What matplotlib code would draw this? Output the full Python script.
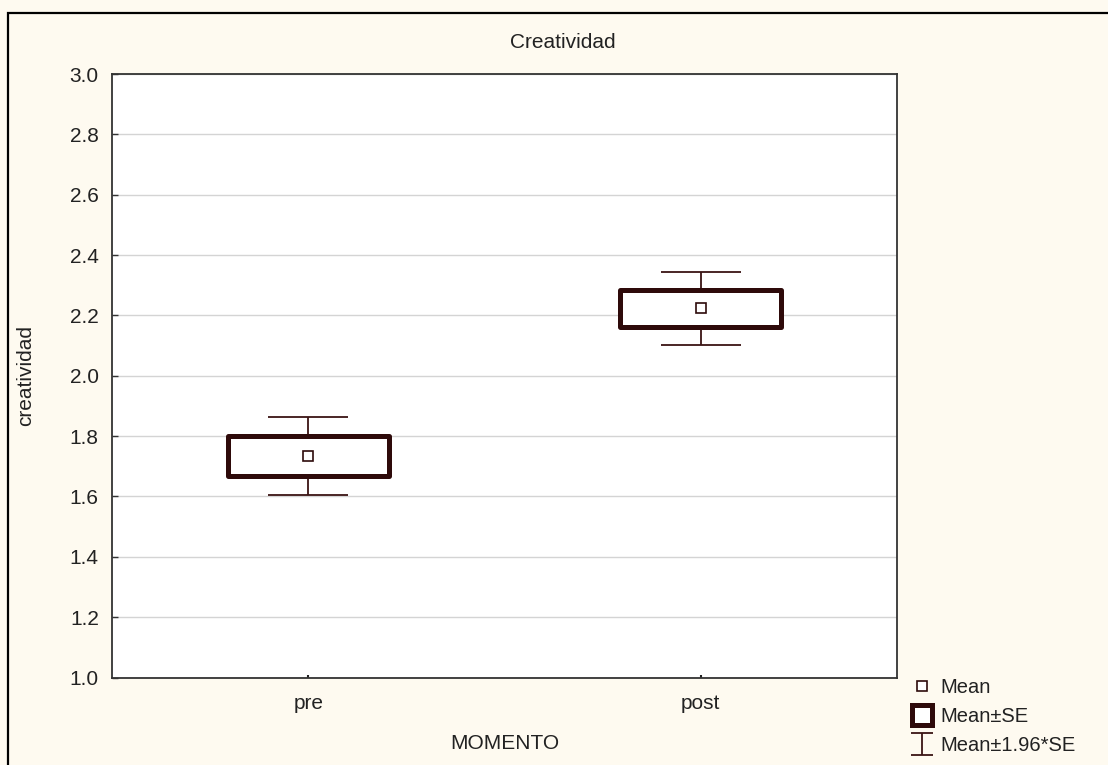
import matplotlib
matplotlib.use("Agg")
import matplotlib.pyplot as plt
from matplotlib.patches import Rectangle
from matplotlib.lines import Line2D
from matplotlib.path import Path

# Group means and standard errors of "creatividad" by MOMENTO
categories = ["pre", "post"]
means = [1.733, 2.223]
std_err = [0.066, 0.061]
ci_factor = 1.96

yticks = [1.0, 1.2, 1.4, 1.6, 1.8, 2.0, 2.2, 2.4, 2.6, 2.8, 3.0]

plt.rcParams["font.family"] = ["Liberation Sans", "DejaVu Sans"]

BG = "#fefaf0"
BOX = "#2e0a0a"
WHISK = "#3a1414"
TXT = "#222222"

W, H = 1108, 765
fig = plt.figure(figsize=(W / 100, H / 100), dpi=100, facecolor=BG)
ax = fig.add_axes([112 / W, 1 - 677.5 / H, 785 / W, 603.5 / H])
ax.set_facecolor("white")

xs = list(range(1, len(categories) + 1))
box_w = 0.41

# whiskers: mean +/- 1.96*SE
ax.errorbar(xs, means, yerr=[ci_factor * s for s in std_err], fmt="none",
            ecolor=WHISK, elinewidth=1.3, capsize=28.5, capthick=1.3, zorder=2)

# boxes: mean +/- SE
for x, m, s in zip(xs, means, std_err):
    ax.add_patch(Rectangle((x - box_w / 2, m - s), box_w, 2 * s,
                           facecolor="white", edgecolor=BOX, linewidth=3.6,
                           joinstyle="round", zorder=3))

# mean markers
ax.plot(xs, means, linestyle="none", marker="s", markersize=7,
        markerfacecolor="white", markeredgecolor=BOX, markeredgewidth=1.2,
        zorder=4)

ax.set_xlim(0.5, 2.5)
ax.set_ylim(1.0, 3.0)
ax.set_xticks(xs)
ax.set_xticklabels(categories)
ax.set_yticks(yticks)
ax.set_yticklabels([f"{v:.1f}" for v in yticks])
ax.yaxis.grid(True, color="#d4d4d4", linewidth=1.0, zorder=0)
ax.set_axisbelow(True)

ax.tick_params(axis="y", direction="in", length=4.5, width=1.0, pad=9.5,
               labelsize=15, labelcolor=TXT, color="#333333")
ax.tick_params(axis="x", direction="in", length=2, width=1.5, pad=12,
               labelsize=15, labelcolor=TXT, color=TXT)
for sp in ax.spines.values():
    sp.set_color("#333333")
    sp.set_linewidth(1.3)

ax.set_xlabel("MOMENTO", fontsize=15, color=TXT, labelpad=15)
ax.set_ylabel("creatividad", fontsize=15, color=TXT)
ax.yaxis.set_label_coords(-0.098, 0.5)

fig.text(563 / W, 1 - 43 / H, "Creatividad", ha="center", va="center",
         fontsize=15, color=TXT)

# legend
ibeam = Path([(-1, 1), (1, 1), (0, 1), (0, -1), (-1, -1), (1, -1)],
             [Path.MOVETO, Path.LINETO, Path.MOVETO, Path.LINETO,
              Path.MOVETO, Path.LINETO])
handles = [
    Line2D([], [], linestyle="none", marker="s", markersize=7,
           markerfacecolor="white", markeredgecolor=BOX, markeredgewidth=1.2),
    Line2D([], [], linestyle="none", marker="s", markersize=14,
           markerfacecolor="white", markeredgecolor=BOX, markeredgewidth=3.6),
    Line2D([], [], linestyle="none", marker=ibeam, markersize=16,
           markerfacecolor="none", markeredgecolor=WHISK, markeredgewidth=1.3),
]
labels = ["Mean", "Mean\u00b1SE", "Mean\u00b11.96*SE"]
fig.legend(handles, labels, loc="lower left",
           bbox_to_anchor=(902 / W, 1 - 765 / H), frameon=False,
           fontsize=14.5, handlelength=1.0, handletextpad=0.4,
           labelspacing=0.5, borderpad=0.0, labelcolor=TXT)

# outer frame
fig.add_artist(Rectangle((8 / W, -0.05), 1.2, (H - 13) / H + 0.05,
                         transform=fig.transFigure, fill=False,
                         edgecolor="black", linewidth=1.6))

fig.savefig("out.png", dpi=100, facecolor=BG)
